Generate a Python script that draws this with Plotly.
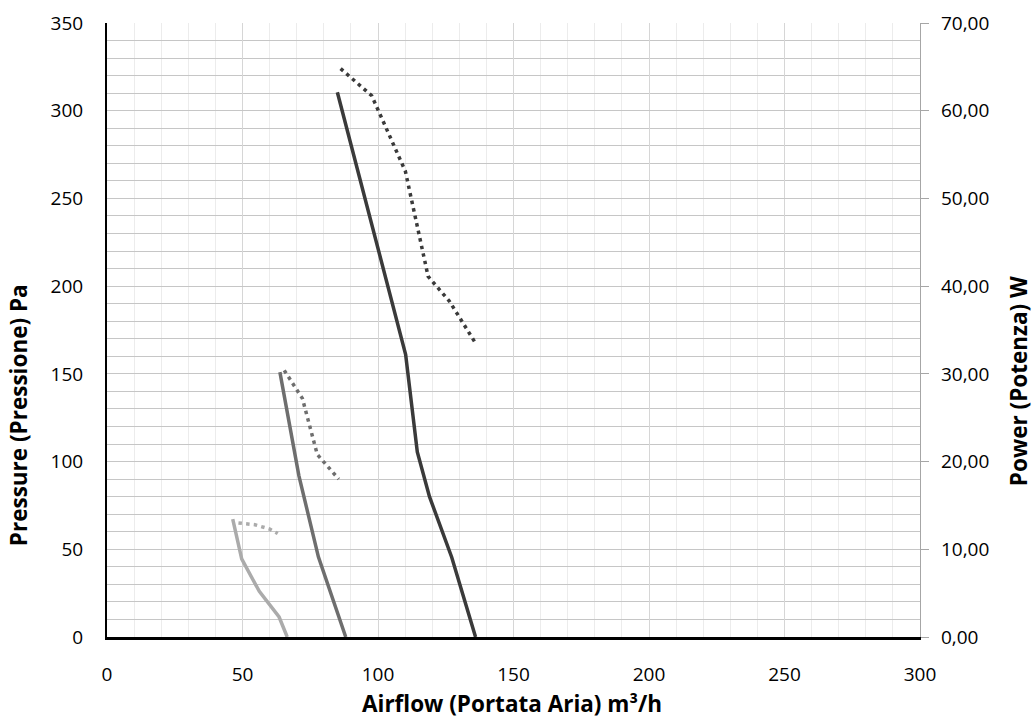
import plotly.graph_objects as go

# ---- data ----
airflow_high = [85.0, 110.2, 114.5, 119.0, 127.2, 136.0]
pressure_high = [310.5, 161.0, 105.5, 80.0, 45.5, 0.0]
power_airflow_high = [86.2, 97.7, 110.1, 118.5, 126.3, 136.0]
power_high = [64.8, 61.7, 53.1, 41.1, 38.3, 33.5]

airflow_mid = [63.8, 70.8, 78.0, 88.1]
pressure_mid = [151.0, 92.0, 45.7, 0.0]
power_airflow_mid = [65.4, 72.1, 77.6, 85.5]
power_mid = [30.4, 27.2, 20.8, 18.0]

airflow_low = [46.4, 49.7, 56.2, 63.5, 66.5]
pressure_low = [67.2, 44.5, 26.0, 11.4, 0.0]
power_airflow_low = [48.5, 54.6, 60.1, 63.0]
power_low = [13.0, 12.8, 12.3, 11.8]

x_ticks = [0, 50, 100, 150, 200, 250, 300]
y_ticks = [0, 50, 100, 150, 200, 250, 300, 350]
y2_ticks = [0, 10, 20, 30, 40, 50, 60, 70]
y2_ticktext = ["0,00", "10,00", "20,00", "30,00", "40,00", "50,00", "60,00", "70,00"]

x_title = "Airflow (Portata Aria) m³/h"
y_title = "Pressure (Pressione) Pa"
y2_title = "Power (Potenza) W"

FONT = "Open Sans"
C_DARK = "#3a3a3a"
C_MID = "#6e6e6e"
C_LIGHT = "#ababab"

fig = go.Figure()

def solid(x, y, color):
    fig.add_trace(go.Scatter(x=x, y=y, mode="lines", yaxis="y",
                             line=dict(color=color, width=3.5), hoverinfo="skip"))

def dotted(x, y, color):
    fig.add_trace(go.Scatter(x=x, y=y, mode="lines", yaxis="y2",
                             line=dict(color=color, width=3.5, dash="3.5px,4.2px"),
                             hoverinfo="skip"))

solid(airflow_low, pressure_low, C_LIGHT)
solid(airflow_mid, pressure_mid, C_MID)
solid(airflow_high, pressure_high, C_DARK)
dotted(power_airflow_low, power_low, C_LIGHT)
dotted(power_airflow_mid, power_mid, C_MID)
dotted(power_airflow_high, power_high, C_DARK)

tickfont = dict(family=FONT, size=19, color="#000000")
titlefont = dict(family=FONT, size=22.5, color="#000000", weight="bold")

fig.update_layout(
    width=1033, height=720,
    margin=dict(l=107, r=113, t=23, b=83),
    paper_bgcolor="white", plot_bgcolor="white",
    showlegend=False,
    xaxis=dict(
        range=[0, 300], tickvals=x_ticks, showgrid=True, automargin=False,
        gridcolor="#d6d6d6", gridwidth=1,
        minor=dict(dtick=10, showgrid=True, gridcolor="#ececec", gridwidth=1),
        showline=True, linecolor="#000000", linewidth=2.5,
        zeroline=False, ticks="", tickfont=tickfont, ticklabelstandoff=18,
    ),
    yaxis=dict(
        range=[0, 350], tickvals=y_ticks, showgrid=True, automargin=False,
        gridcolor="#c6c6c6", gridwidth=1.3,
        minor=dict(dtick=10, showgrid=True, gridcolor="#c6c6c6", gridwidth=1.3),
        showline=True, linecolor="#000000", linewidth=2,
        zeroline=False, ticks="", tickfont=tickfont, ticklabelstandoff=18,
    ),
    yaxis2=dict(
        range=[0, 70], tickvals=y2_ticks, ticktext=y2_ticktext, automargin=False,
        overlaying="y", side="right", showgrid=False, zeroline=False,
        showline=True, linecolor="#a6a6a6", linewidth=1.3,
        ticks="outside", ticklen=8, tickcolor="#a6a6a6", tickwidth=1.3,
        tickfont=tickfont, ticklabelstandoff=8,
    ),
    annotations=[
        dict(text=x_title, x=0.498, y=-0.109, xref="paper", yref="paper",
             xanchor="center", yanchor="middle", showarrow=False, font=titlefont,
             borderpad=0),
        dict(text=y_title, x=-0.108, y=0.3616, xref="paper", yref="paper",
             xanchor="center", yanchor="middle", showarrow=False, textangle=-90,
             font=titlefont, borderpad=0),
        dict(text=y2_title, x=1.122, y=0.417, xref="paper", yref="paper",
             xanchor="center", yanchor="middle", showarrow=False, textangle=-90,
             font=titlefont, borderpad=0),
    ],
)

fig.write_html("out.html",
               config={"displayModeBar": False},
               post_script="document.body.style.margin='0';document.body.style.overflow='hidden';")
